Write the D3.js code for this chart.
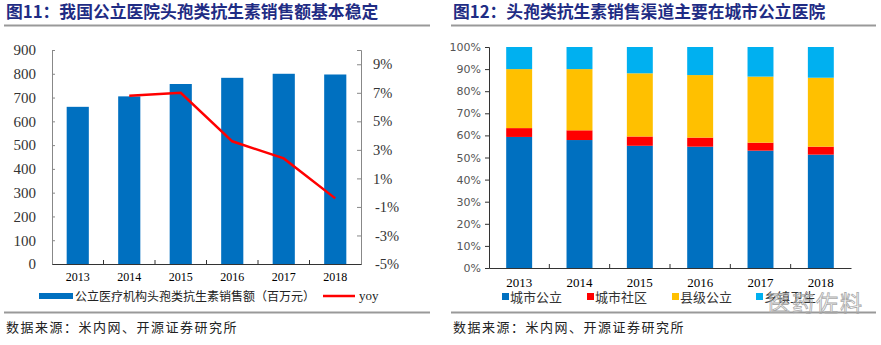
<!DOCTYPE html>
<html>
<head>
<meta charset="utf-8">
<script src="https://cdn.jsdelivr.net/npm/d3@7"></script>
<style>
body{margin:0;background:#fff;}
svg{display:block;}
.cjk{font-family:"Noto Sans CJK SC",sans-serif;}
</style>
</head>
<body>
<svg id="chart" width="881" height="345"></svg>
<script>
var years = ["2013","2014","2015","2016","2017","2018"];
var sales = [661, 705, 757, 783, 800, 797];
var yoy = [null, 6.8, 7.0, 3.6, 2.4, -0.4];
var leftTicks = [0,100,200,300,400,500,600,700,800,900];
var rightTicks = [-5,-3,-1,1,3,5,7,9];

var channels = ["城市公立","城市社区","县级公立","乡镇卫生"];
var channelColors = ["#0070C0","#FF0000","#FFC000","#00B0F0"];
var cityPublic = [59.3, 57.9, 55.3, 54.9, 53.1, 51.3];
var cityCommunity = [4.0, 4.4, 4.2, 4.1, 3.6, 3.6];
var countyPublic = [26.7, 27.7, 28.6, 28.3, 29.9, 31.2];
var township = [10.0, 10.0, 11.9, 12.7, 13.4, 13.9];
var pctTicks = [0,10,20,30,40,50,60,70,80,90,100];

var svg = d3.select("#chart");
var titleColor = "#1F2C84";

function header(x0, x1, title){
	svg.append("text").attr("class","cjk").attr("x", x0+2).attr("y", 18)
		.attr("font-size", 16.8).attr("font-weight", "bold").attr("fill", titleColor)
		.text(title);
	svg.append("line").attr("x1", x0).attr("x2", x1).attr("y1", 25.5).attr("y2", 25.5)
		.attr("stroke", "#999").attr("stroke-width", 2);
	svg.append("line").attr("x1", x0).attr("x2", x1).attr("y1", 312.5).attr("y2", 312.5)
		.attr("stroke", "#999").attr("stroke-width", 2);
	svg.append("text").attr("class","cjk").attr("x", x0+2).attr("y", 332)
		.attr("font-size", 13).attr("fill", "#222").attr("letter-spacing", 1.5)
		.text("数据来源：米内网、开源证券研究所");
}
header(4, 430, "图11：我国公立医院头孢类抗生素销售额基本稳定");
header(451, 876, "图12：头孢类抗生素销售渠道主要在城市公立医院");

// ---- left chart ----
var L = {x0: 52, x1: 361, y0: 264, y1: 50};
var xL = d3.scaleBand().domain(years).range([L.x0, L.x1]);
var yL = d3.scaleLinear().domain([0, 900]).range([L.y0, L.y1]);
var yR = d3.scaleLinear().domain([-5, 10]).range([L.y0, L.y1]);
var bwL = xL.bandwidth()*0.43;

var gl = svg.append("g");
gl.selectAll(".bar").data(sales).enter().append("rect")
	.attr("x", function(d,i){ return xL(years[i]) + xL.bandwidth()/2 - bwL/2; })
	.attr("y", function(d){ return yL(d); })
	.attr("width", bwL)
	.attr("height", function(d){ return L.y0 - yL(d); })
	.attr("fill", "#0070C0");

var axL = gl.append("g").attr("transform", "translate("+L.x0+",0)")
	.call(d3.axisLeft(yL).tickValues(leftTicks).tickSize(-3).tickPadding(16));
axL.select(".domain").attr("stroke", "#888");
axL.selectAll("line").attr("stroke", "#888");
axL.selectAll("text").attr("font-family", "Liberation Serif, serif").attr("font-size", 15).attr("fill", "#333");

var axR = gl.append("g").attr("transform", "translate("+L.x1+",0)")
	.call(d3.axisRight(yR).tickValues(rightTicks).tickSize(-4).tickPadding(4)
		.tickFormat(function(d){ return d + "%"; }));
axR.select(".domain").attr("stroke", "#888");
axR.selectAll("line").attr("stroke", "#888");
axR.selectAll("text").attr("font-family", "Liberation Serif, serif").attr("font-size", 14.5).attr("fill", "#333")
	.attr("x", function(d){ return d < 0 ? 14 : 12; });

var axB = gl.append("g").attr("transform", "translate(0,"+L.y0+")")
	.call(d3.axisBottom(xL).tickSize(0).tickPadding(8));
axB.select(".domain").attr("stroke", "#333");
axB.selectAll("text").attr("font-family", "Liberation Serif, serif").attr("font-size", 12).attr("fill", "#000");
gl.selectAll(".sep").data(years.slice(1)).enter().append("line")
	.attr("x1", function(d){ return xL(d); }).attr("x2", function(d){ return xL(d); })
	.attr("y1", L.y0).attr("y2", L.y0-4).attr("stroke", "#333");

var line = d3.line()
	.defined(function(d){ return d != null; })
	.x(function(d,i){ return xL(years[i]) + xL.bandwidth()/2; })
	.y(function(d){ return yR(d); });
gl.append("path").datum(yoy).attr("d", line)
	.attr("fill", "none").attr("stroke", "#FF0000").attr("stroke-width", 2.5);

// legend left
gl.append("rect").attr("x", 39).attr("y", 293).attr("width", 34).attr("height", 6).attr("fill", "#0070C0");
gl.append("text").attr("class","cjk").attr("x", 75).attr("y", 300.5).attr("font-size", 12).attr("fill", "#222")
	.text("公立医疗机构头孢类抗生素销售额（百万元）");
gl.append("line").attr("x1", 323).attr("x2", 355).attr("y1", 296).attr("y2", 296)
	.attr("stroke", "#FF0000").attr("stroke-width", 2.5);
gl.append("text").attr("x", 359).attr("y", 300).attr("font-family", "Liberation Serif, serif")
	.attr("font-size", 13).attr("fill", "#222").text("yoy");

// ---- right chart ----
var R = {x0: 489, x1: 851, y0: 268, y1: 47};
var xS = d3.scaleBand().domain(years).range([R.x0, R.x1]);
var yS = d3.scaleLinear().domain([0, 100]).range([R.y0, R.y1]);
var bwS = xS.bandwidth()*0.43;

var rows = years.map(function(y,i){
	return {year: y, "城市公立": cityPublic[i], "城市社区": cityCommunity[i], "县级公立": countyPublic[i], "乡镇卫生": township[i]};
});
var stacked = d3.stack().keys(channels)(rows);

var gr = svg.append("g");
gr.selectAll(".layer").data(stacked).enter().append("g")
	.attr("fill", function(d,i){ return channelColors[i]; })
	.selectAll("rect").data(function(d){ return d; }).enter().append("rect")
	.attr("x", function(d){ return xS(d.data.year) + xS.bandwidth()/2 - bwS/2; })
	.attr("y", function(d){ return yS(d[1]); })
	.attr("width", bwS)
	.attr("height", function(d){ return yS(d[0]) - yS(d[1]); });

var axS = gr.append("g").attr("transform", "translate("+R.x0+",0)")
	.call(d3.axisLeft(yS).tickValues(pctTicks).tickSize(4).tickPadding(4)
		.tickFormat(function(d){ return d + "%"; }));
axS.select(".domain").attr("stroke", "#333");
axS.selectAll("line").attr("stroke", "#333").attr("x2", 0).attr("x1", -4);
axS.selectAll("text").attr("font-family", "DejaVu Sans, sans-serif").attr("font-size", 11).attr("fill", "#555");

var axSB = gr.append("g").attr("transform", "translate(0,"+R.y0+")")
	.call(d3.axisBottom(xS).tickSize(0).tickPadding(10));
axSB.select(".domain").attr("stroke", "#333");
axSB.selectAll("text").attr("font-family", "Liberation Serif, serif").attr("font-size", 13).attr("fill", "#000");
gr.selectAll(".sep").data(years.slice(1)).enter().append("line")
	.attr("x1", function(d){ return xS(d); }).attr("x2", function(d){ return xS(d); })
	.attr("y1", R.y0).attr("y2", R.y0-4).attr("stroke", "#333");

var legX = [502, 587, 672, 756];
var leg = gr.selectAll(".leg").data(channels).enter().append("g")
	.attr("transform", function(d,i){ return "translate("+legX[i]+",293)"; });
leg.append("rect").attr("width", 7).attr("height", 7)
	.attr("fill", function(d,i){ return channelColors[i]; });
leg.append("text").attr("class","cjk").attr("x", 8).attr("y", 8.5).attr("font-size", 13).attr("fill", "#333")
	.text(function(d){ return d; });

// watermark
gr.append("text").attr("class","cjk").attr("x", 768).attr("y", 311).attr("font-size", 22)
	.attr("fill", "none").attr("stroke", "#aaa").attr("stroke-width", 0.8).attr("letter-spacing", 2)
	.text("医药佐料");
</script>
</body>
</html>
